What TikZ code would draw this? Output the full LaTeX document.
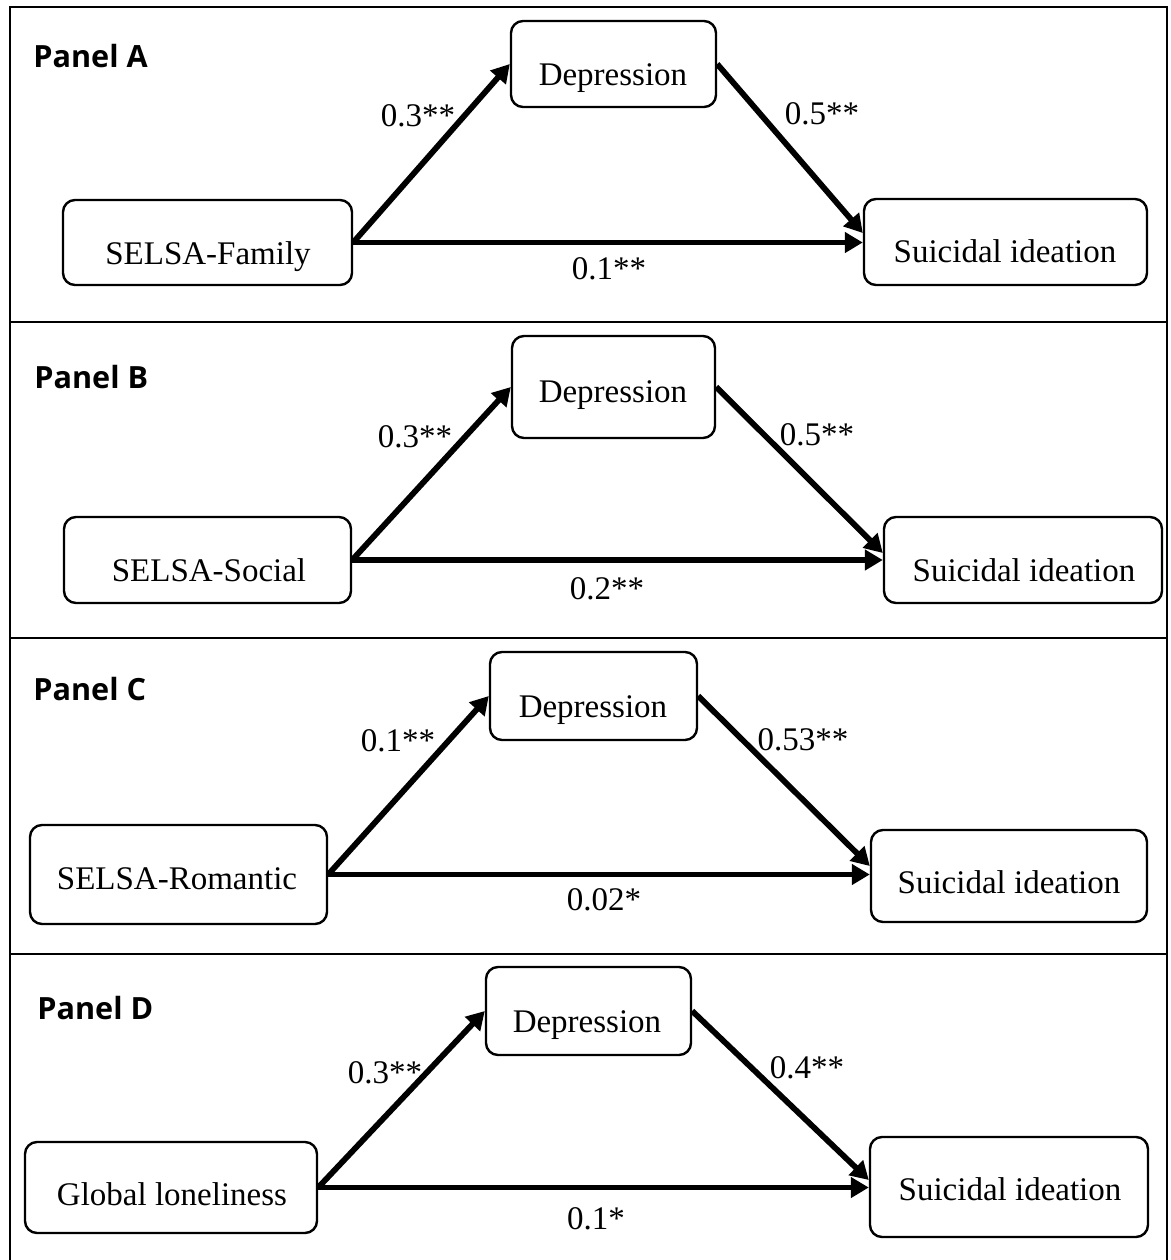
\documentclass[tikz,border=0pt]{standalone}
\usepackage{fontspec}
\setmainfont{Liberation Serif}
\newfontfamily\panelfont{Open Sans}
\usetikzlibrary{arrows.meta}

\begin{document}
\begin{tikzpicture}[x=0.5pt,y=-0.5pt,
  box/.style={draw, line width=1.2pt, rounded corners=6pt, inner sep=0pt},
  txt/.style={font=\fontsize{16.5}{19}\selectfont, inner sep=0pt, text height=0.66em, text depth=0pt, yshift=-2pt},
  ptitle/.style={font=\panelfont\bfseries\fontsize{15.3}{18}\selectfont, inner sep=0pt, text height=0.714em, text depth=0pt, anchor=west, yshift=-2pt},
  link/.style={line width=2.9pt, -{Triangle[length=9pt,width=10pt]}},
  rule/.style={line width=0.7pt},
  heavyrule/.style={line width=1.1pt}]

\useasboundingbox (0,0) rectangle (1171,1260);

% outer frame and panel dividers
\coordinate (fTL) at (10,7);
\coordinate (fTR) at (1167,7);
\coordinate (fBL) at (10,1260);
\coordinate (fBR) at (1167,1260);
\draw[rule] (fBL) -- (fTL) -- (fTR) -- (fBR);
\draw[rule] (10,322) -- (1167,322);
\draw[heavyrule] (10,638) -- (1167,638);
\draw[rule] (10,954) -- (1167,954);

% ---------------- Panel A ----------------
\node[ptitle] (aT) at (33,56) {Panel A};
\node[box, minimum width=102.5pt, minimum height=43pt] (aM) at (613.5,64) {};
\node[box, minimum width=144.5pt, minimum height=42.5pt] (aX) at (207.5,242.5) {};
\node[box, minimum width=141.5pt, minimum height=43pt] (aY) at (1005.5,242) {};
\node[txt] (aMt) at (613,75) {Depression};
\node[txt] (aXt) at (208,254) {SELSA-Family};
\node[txt] (aYt) at (1005,252) {Suicidal ideation};
\draw[link] (aX.east) -- (aM.west);
\draw[link] (aX.east) -- (aX.east -| aY.west);
\draw[link] (aM.east) -- ([yshift=4.5pt]aY.west);
\node[txt] (aC1) at (418,116) {0.3**};
\node[txt] (aC2) at (822,114) {0.5**};
\node[txt] (aC3) at (609,269) {0.1**};

% ---------------- Panel B ----------------
\node[ptitle] (bT) at (34,377) {Panel B};
\node[box, minimum width=101.5pt, minimum height=51pt] (bM) at (613.5,387) {};
\node[box, minimum width=143.5pt, minimum height=43pt] (bX) at (207.5,560) {};
\node[box, minimum width=139pt, minimum height=43pt] (bY) at (1023,560) {};
\node[txt] (bMt) at (613,392) {Depression};
\node[txt] (bXt) at (209,571) {SELSA-Social};
\node[txt] (bYt) at (1024,571) {Suicidal ideation};
\draw[link] (bX.east) -- (bM.west);
\draw[link] (bX.east) -- (bX.east -| bY.west);
\draw[link] (bM.east) -- ([yshift=3.5pt]bY.west);
\node[txt] (bC1) at (415,437) {0.3**};
\node[txt] (bC2) at (817,435) {0.5**};
\node[txt] (bC3) at (607,589) {0.2**};

% ---------------- Panel C ----------------
\node[ptitle] (cT) at (33,689) {Panel C};
\node[box, minimum width=103.5pt, minimum height=44pt] (cM) at (593.5,696) {};
\node[box, minimum width=148.5pt, minimum height=49.5pt] (cX) at (178.5,874.5) {};
\node[box, minimum width=138pt, minimum height=46pt] (cY) at (1009,876) {};
\node[txt] (cMt) at (593,707) {Depression};
\node[txt] (cXt) at (177,879) {SELSA-Romantic};
\node[txt] (cYt) at (1009,883) {Suicidal ideation};
\draw[link] (cX.east) -- (cM.west);
\draw[link] (cX.east) -- (cX.east -| cY.west);
\draw[link] (cM.east) -- ([yshift=5pt]cY.west);
\node[txt] (cC1) at (398,741) {0.1**};
\node[txt] (cC2) at (803,740) {0.53**};
\node[txt] (cC3) at (604,900) {0.02*};

% ---------------- Panel D ----------------
\node[ptitle] (dT) at (37,1008) {Panel D};
\node[box, minimum width=102.5pt, minimum height=44pt] (dM) at (588.5,1011) {};
\node[box, minimum width=146pt, minimum height=45.5pt] (dX) at (171,1187.5) {};
\node[box, minimum width=139pt, minimum height=50pt] (dY) at (1009,1187) {};
\node[txt] (dMt) at (587,1022) {Depression};
\node[txt] (dXt) at (172,1195) {Global loneliness};
\node[txt] (dYt) at (1010,1190) {Suicidal ideation};
\draw[link] (dX.east) -- (dM.west);
\draw[link] (dX.east) -- (dX.east -| dY.west);
\draw[link] (dM.east) -- ([yshift=3.5pt]dY.west);
\node[txt] (dC1) at (385,1073) {0.3**};
\node[txt] (dC2) at (807,1068) {0.4**};
\node[txt] (dC3) at (596,1219) {0.1*};

\end{tikzpicture}
\end{document}
